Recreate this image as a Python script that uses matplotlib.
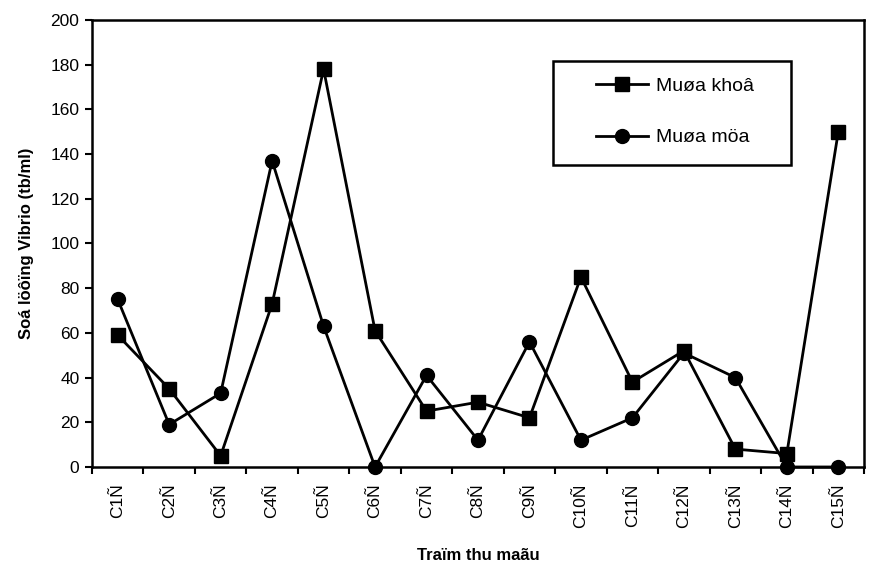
import numpy as np
import matplotlib
matplotlib.use("Agg")
from matplotlib import pyplot as plt
from matplotlib.patches import Rectangle

# station labels and Vibrio counts (tb/ml) per season
stations = ["C1Ñ", "C2Ñ", "C3Ñ", "C4Ñ", "C5Ñ", "C6Ñ", "C7Ñ", "C8Ñ",
            "C9Ñ", "C10Ñ", "C11Ñ", "C12Ñ", "C13Ñ", "C14Ñ", "C15Ñ"]
mua_kho = [59, 35, 5, 73, 178, 61, 25, 29, 22, 85, 38, 52, 8, 6, 150]
mua_mua = [75, 19, 33, 137, 63, 0, 41, 12, 56, 12, 22, 51, 40, 0, 0]

plt.rcParams.update({"font.family": ["Liberation Sans", "DejaVu Sans"]})

fig = plt.figure(figsize=(8.71, 5.69), dpi=100)
ax = fig.add_axes([0.1056, 0.1793, 0.8864, 0.7856])

x = np.arange(1, len(stations) + 1)
ax.plot(x, mua_kho, c="black", lw=2, marker="s", ms=9.5, label="Muøa khoâ",
        clip_on=False, zorder=3)
ax.plot(x, mua_mua, c="black", lw=2, marker="o", ms=10, label="Muøa möa",
        clip_on=False, zorder=3)

ax.set_xlim(0.5, len(stations) + 0.5)
ax.set_ylim(0, 200)
ax.set_yticks(np.arange(0, 201, 20))

# category labels centred, ticks on the category boundaries
ax.set_xticks(x)
ax.set_xticklabels(stations, rotation=90, fontsize=12.5)
ax.set_xticks(np.arange(0.5, len(stations) + 1, 1), minor=True)
ax.tick_params(axis="x", which="major", length=0, pad=12)
ax.tick_params(axis="x", which="minor", length=5, width=1.5, direction="out")
ax.tick_params(axis="y", length=5, width=1.5, direction="out", labelsize=12.5, pad=4)

for s in ax.spines.values():
    s.set_linewidth(1.8)
    s.set_color("black")

ax.set_ylabel("Soá löôïng Vibrio (tb/ml)", fontsize=12, fontweight="bold", labelpad=12)
ax.set_xlabel("Traïm thu maãu", fontsize=12, fontweight="bold", labelpad=14)

# legend box drawn as its own frame, entries placed inside
ax.add_patch(Rectangle((0.597, 0.6756), 0.3084, 0.2327, transform=ax.transAxes,
                       fill=True, facecolor="white", edgecolor="black", lw=1.8,
                       zorder=4, clip_on=False))
leg = ax.legend(loc="center left", bbox_to_anchor=(0.653, 0.794), fontsize=14,
                frameon=False, borderpad=0, labelspacing=1.73, handlelength=2.67,
                handletextpad=0.4, borderaxespad=0)
leg.set_zorder(5)

fig.savefig("out.png", dpi=100)
